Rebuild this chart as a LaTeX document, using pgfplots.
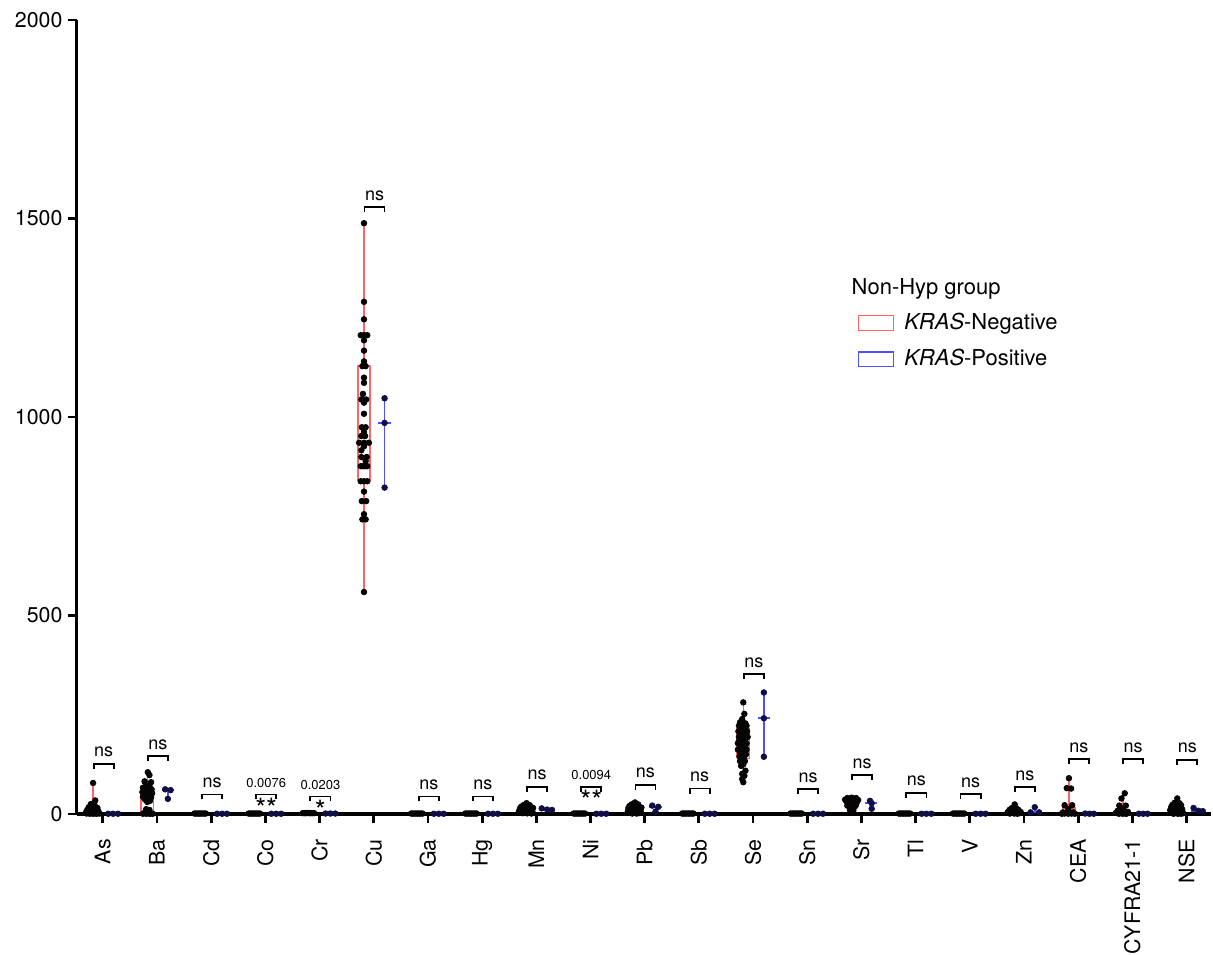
\documentclass[border=0pt]{standalone}
\usepackage{fontspec}
\setmainfont{TeX Gyre Heros}
\usepackage{pgfplots}
\pgfplotsset{compat=1.18}
\definecolor{kred}{RGB}{255,100,100}
\definecolor{kblue}{RGB}{80,80,255}
\definecolor{kdot}{RGB}{5,5,5}
\definecolor{bdot}{RGB}{15,15,70}
\newcommand{\tf}{\fontsize{10.7}{12.8}\selectfont}
\newcommand{\brk}[3]{\draw[line width=0.9pt] ([yshift=-2.5pt]axis cs:#1,#3) -- (axis cs:#1,#3) -- (axis cs:#2,#3) -- ([yshift=-2.5pt]axis cs:#2,#3);}
\newcommand{\nslab}[3]{\node[anchor=base, yshift=3.5pt, inner sep=0pt, font=\fontsize{9}{10}\selectfont] at (axis cs:#1,#2) {#3};}
\newcommand{\plab}[3]{\node[anchor=base, yshift=3.5pt, inner sep=0pt, font=\fontsize{6.5}{7}\selectfont] at (axis cs:#1,#2) {#3};}
\newcommand{\stars}[3]{\node[anchor=north, yshift=-1.5pt, inner sep=0pt, font=\fontsize{14}{15}\selectfont] at (axis cs:#1,#2) {#3};}
\pgfplotsset{
  rbox/.style={kred, line width=0.75pt, forget plot, mark=none},
  bbox/.style={kblue, line width=0.9pt, forget plot, mark=none},
}
\begin{document}
\begin{tikzpicture}
\begin{axis}[
  width=568pt, height=397.5pt, scale only axis,
  xmin=-0.479, xmax=20.46, ymin=0, ymax=2000,
  axis x line*=bottom, axis y line*=left,
  axis line style={line width=1.6pt, black, -},
  xtick={0,...,20},
  xticklabels={\tf As,\tf Ba,\tf Cd,\tf Co,\tf Cr,\tf Cu,\tf Ga,\tf Hg,\tf Mn,\tf Ni,\tf Pb,\tf Sb,\tf Se,\tf Sn,\tf Sr,\tf Tl,\tf V,\tf Zn,\tf CEA,\tf CYFRA21-1,\tf NSE},
  ytick={0,500,1000,1500,2000},
  yticklabel={\tf\pgfmathprintnumber[assume math mode=true,1000 sep={}]{\tick}},
  tick align=outside, major tick length=4.5pt,
  major tick style={line width=1.4pt, black},
  xticklabel style={rotate=90, anchor=east, inner sep=0pt, font=\tf},
  yticklabel style={anchor=east, inner sep=0pt, font=\tf},
  xticklabel shift=8pt, yticklabel shift=2.5pt,
  /pgf/number format/assume math mode=true,
  /pgf/number format/1000 sep={},
  unbounded coords=jump,
  clip=false,
  legend style={at={(0.6826,0.6413)}, anchor=north west, draw=none, fill=none,
    font=\fontsize{11}{13}\selectfont, row sep=4.5pt, column sep=3pt},
  legend cell align=left,
  legend image code/.code={\draw[#1, line width=0.7pt] (0cm,-0.13cm) rectangle (0.62cm,0.13cm);},
]
\addlegendimage{kred}
\addlegendentry{\textit{KRAS}-Negative}
\addlegendimage{kblue}
\addlegendentry{\textit{KRAS}-Positive}

% red boxes (KRAS-Negative): whisker, box, median, whisker
\addplot[rbox] coordinates {(-0.18,0.5)(-0.18,1) (-0.18,nan) (-0.295,1)(-0.065,1)(-0.065,12)(-0.295,12)(-0.295,1) (-0.18,nan) (-0.295,4)(-0.065,4) (-0.18,nan) (-0.18,12)(-0.18,78)};
\addplot[rbox] coordinates {(0.82,0.5)(0.82,5) (0.82,nan) (0.705,5)(0.935,5)(0.935,57)(0.705,57)(0.705,5) (0.82,nan) (0.705,45)(0.935,45) (0.82,nan) (0.82,57)(0.82,105)};
\addplot[rbox] coordinates {(4.82,559)(4.82,838) (4.82,nan) (4.705,838)(4.935,838)(4.935,1130)(4.705,1130)(4.705,838) (4.82,nan) (4.705,935)(4.935,935) (4.82,nan) (4.82,1130)(4.82,1488)};
\addplot[rbox] coordinates {(7.82,1)(7.82,6) (7.82,nan) (7.705,6)(7.935,6)(7.935,17)(7.705,17)(7.705,6) (7.82,nan) (7.705,10)(7.935,10) (7.82,nan) (7.82,17)(7.82,27)};
\addplot[rbox] coordinates {(9.82,1)(9.82,6) (9.82,nan) (9.705,6)(9.935,6)(9.935,20)(9.705,20)(9.705,6) (9.82,nan) (9.705,12)(9.935,12) (9.82,nan) (9.82,20)(9.82,29)};
\addplot[rbox] coordinates {(11.82,80)(11.82,140) (11.82,nan) (11.705,140)(11.935,140)(11.935,214)(11.705,214)(11.705,140) (11.82,nan) (11.705,175)(11.935,175) (11.82,nan) (11.82,214)(11.82,281)};
\addplot[rbox] coordinates {(13.82,4)(13.82,20) (13.82,nan) (13.705,20)(13.935,20)(13.935,40)(13.705,40)(13.705,20) (13.82,nan) (13.705,30)(13.935,30) (13.82,nan) (13.82,40)(13.82,41)};
\addplot[rbox] coordinates {(16.82,0.5)(16.82,3) (16.82,nan) (16.705,3)(16.935,3)(16.935,12)(16.705,12)(16.705,3) (16.82,nan) (16.705,6)(16.935,6) (16.82,nan) (16.82,12)(16.82,24)};
\addplot[rbox] coordinates {(17.83,0.5)(17.83,1) (17.83,nan) (17.715,1)(17.945,1)(17.945,15)(17.715,15)(17.715,1) (17.83,nan) (17.715,3)(17.945,3) (17.83,nan) (17.83,15)(17.83,90)};
\addplot[rbox] coordinates {(18.83,0.5)(18.83,1.5) (18.83,nan) (18.715,1.5)(18.945,1.5)(18.945,10)(18.715,10)(18.715,1.5) (18.83,nan) (18.715,4)(18.945,4) (18.83,nan) (18.83,10)(18.83,50)};
\addplot[rbox] coordinates {(19.83,0.5)(19.83,5) (19.83,nan) (19.715,5)(19.945,5)(19.945,18)(19.715,18)(19.715,5) (19.83,nan) (19.715,10)(19.945,10) (19.83,nan) (19.83,18)(19.83,39)};

% blue ranges (KRAS-Positive): min-max line, median bar
\addplot[bbox] coordinates {(1.2,38)(1.2,62) (1.2,nan) (1.085,60)(1.315,60)};
\addplot[bbox] coordinates {(5.2,822)(5.2,1047) (5.2,nan) (5.085,985)(5.315,985)};
\addplot[bbox] coordinates {(8.2,10)(8.2,14) (8.2,nan) (8.085,11)(8.315,11)};
\addplot[bbox] coordinates {(10.2,6)(10.2,21) (10.2,nan) (10.085,18)(10.315,18)};
\addplot[bbox] coordinates {(12.2,144)(12.2,306) (12.2,nan) (12.085,241)(12.315,241)};
\addplot[bbox] coordinates {(14.18,13)(14.18,33) (14.18,nan) (14.065,27)(14.295,27)};
\addplot[bbox] coordinates {(17.2,4)(17.2,17) (17.2,nan) (17.085,4)(17.315,4)};
\addplot[bbox] coordinates {(20.2,7)(20.2,15) (20.2,nan) (20.085,8)(20.315,8)};

% red dots (KRAS-Negative)
\addplot[only marks, mark=*, mark size=1.4pt, kdot, forget plot] table {
x y
-0.18 78
-0.14 34
-0.22 25
-0.15 21
-0.26 17
-0.10 15
-0.20 12
-0.29 10
-0.13 9
-0.24 7
-0.08 6
-0.18 5
-0.31 4
-0.27 3
-0.21 2.5
-0.15 2
-0.10 1.5
-0.06 1
-0.30 1
-0.24 0.5
-0.18 0.5
-0.12 0.5
0.83 105
0.86 98
0.77 82
0.89 80
0.80 72
0.86 70
0.74 66
0.83 64
0.90 62
0.78 60
0.87 57
0.73 55
0.82 54
0.91 52
0.77 50
0.86 48
0.81 45
0.74 43
0.89 42
0.84 39
0.78 36
0.87 33
0.82 30
0.80 12
0.86 10
0.77 3
0.83 2
0.89 1
0.74 0.5
0.80 0.5
0.86 0.5
0.92 0.5
1.69 1
1.72 1
1.75 1
1.78 1
1.81 1
1.84 1
1.87 1
1.90 1
2.69 1
2.72 1
2.75 1
2.78 1
2.81 1
2.84 1
2.87 1
2.90 1
3.69 2
3.72 2
3.75 2
3.78 2.5
3.81 2
3.84 2
3.87 2
3.90 2
4.82 1488
4.82 1290
4.82 1246
4.76 1206
4.82 1206
4.88 1206
4.82 1193
4.82 1167
4.82 1140
4.79 1128
4.85 1128
4.82 1099
4.82 1086
4.80 1058
4.77 1044
4.86 1044
4.82 1036
4.82 1008
4.78 974
4.85 974
4.82 962
4.77 952
4.84 952
4.73 935
4.82 935
4.91 935
4.82 926
4.77 916
4.77 899
4.87 899
4.85 889
4.76 876
4.80 876
4.84 876
4.88 876
4.76 838
4.82 838
4.88 838
4.82 812
4.78 788
4.86 788
4.82 755
4.79 742
4.85 742
4.82 559
5.69 1
5.72 1
5.75 1
5.78 1
5.81 1
5.84 1
5.87 1
5.90 1
6.69 1
6.72 1
6.75 1
6.78 1
6.81 1
6.84 1
6.87 1
6.90 1
7.82 27
7.76 22
7.88 22
7.72 18
7.80 18
7.88 17
7.94 15
7.70 14
7.77 13
7.85 13
7.92 11
7.73 10
7.81 9
7.89 8
7.68 7
7.76 6
7.84 6
7.93 5
7.71 4
7.79 3
7.87 3
7.75 2
7.83 1.5
7.91 1
8.69 1
8.72 1
8.75 1
8.78 1
8.81 1
8.84 1
8.87 1
8.90 1
9.82 29
9.76 24
9.88 24
9.72 20
9.80 19
9.88 19
9.94 16
9.70 15
9.78 14
9.86 13
9.74 10
9.82 9
9.90 9
9.69 7
9.77 6
9.85 6
9.93 5
9.73 3
9.81 3
9.89 2
9.77 1
9.85 1
10.69 1
10.72 1
10.75 1
10.78 1
10.81 1
10.84 1
10.87 1
10.90 1
11.82 281
11.84 252
11.80 239
11.76 231
11.78 228
11.86 228
11.74 222
11.88 222
11.80 218
11.76 214
11.86 214
11.73 208
11.81 208
11.89 208
11.77 202
11.87 202
11.82 198
11.74 194
11.82 194
11.90 194
11.78 188
11.86 188
11.74 183
11.84 183
11.72 178
11.80 178
11.88 178
11.77 172
11.86 172
11.75 166
11.84 166
11.72 162
11.80 162
11.88 162
11.76 156
11.85 156
11.79 150
11.87 150
11.75 145
11.84 145
11.80 140
11.76 133
11.85 133
11.82 125
11.78 121
11.86 109
11.80 101
11.84 96
11.80 88
11.82 80
12.69 1
12.72 1
12.75 1
12.78 1
12.81 1
12.84 1
12.87 1
12.90 1
13.74 40
13.82 41
13.90 40
13.70 36
13.78 37
13.86 37
13.94 35
13.72 32
13.80 33
13.88 32
13.75 28
13.83 28
13.91 27
13.78 24
13.86 24
13.74 21
13.82 20
13.89 20
13.78 16
13.86 16
13.82 12
13.79 8
13.85 8
13.82 4
14.69 1
14.72 1
14.75 1
14.78 1
14.81 1
14.84 1
14.87 1
14.90 1
15.69 1
15.72 1
15.75 1
15.78 1
15.81 1
15.84 1
15.87 1
15.90 1
16.83 24
16.78 15
16.86 14
16.74 11
16.82 10
16.90 10
16.72 7
16.80 6
16.88 6
16.94 5
16.70 4
16.77 3
16.85 3
16.92 2
16.74 1
16.82 1
16.88 0.5
17.83 90
17.79 65
17.87 64
17.75 22
17.89 22
17.82 12
17.72 4
17.78 3
17.85 3
17.91 4
17.75 1
17.82 0.5
17.88 1
17.70 0.5
17.94 0.5
18.86 52
18.80 39
18.76 21
18.88 21
18.82 12
18.73 8
18.79 6
18.86 6
18.92 5
18.70 3
18.77 2
18.84 2
18.90 1
18.75 0.5
18.82 0.5
18.88 0.5
19.83 39
19.78 28
19.87 27
19.74 23
19.82 22
19.90 22
19.72 18
19.80 17
19.88 17
19.76 14
19.84 13
19.92 12
19.70 10
19.78 9
19.86 9
19.74 6
19.82 5
19.90 5
19.70 3
19.78 2
19.86 2
19.94 2
19.76 0.5
19.84 0.5
19.90 0.5
};

% blue dots (KRAS-Positive)
\addplot[only marks, mark=*, mark size=1.4pt, bdot, forget plot] table {
x y
0.10 0.5
0.19 0.5
0.28 0.5
1.15 62
1.25 60
1.20 38
2.11 0.5
2.20 0.5
2.29 0.5
3.11 0.5
3.20 0.5
3.29 0.5
4.11 1
4.20 1
4.29 1
5.20 1047
5.20 985
5.20 822
6.11 0.5
6.20 0.5
6.29 0.5
7.11 0.5
7.20 0.5
7.29 0.5
8.10 14
8.20 11
8.29 10
9.11 0.5
9.20 0.5
9.29 0.5
10.14 21
10.25 18
10.20 6
11.11 0.5
11.20 0.5
11.29 0.5
12.20 306
12.20 241
12.20 144
13.11 0.5
13.20 0.5
13.29 0.5
14.16 33
14.19 27
14.19 13
15.11 0.5
15.20 0.5
15.29 0.5
16.11 0.5
16.20 0.5
16.29 0.5
17.20 17
17.12 4
17.28 4
18.13 1
18.21 0.5
18.29 0.5
19.12 0.5
19.20 0.5
19.28 0.5
20.13 15
20.22 8
20.30 7
};

% significance brackets
\brk{-0.17}{0.2}{126} \nslab{0.015}{126}{ns}
\brk{0.83}{1.2}{145} \nslab{1.015}{145}{ns}
\brk{1.83}{2.2}{49} \nslab{2.015}{49}{ns}
\brk{2.83}{3.2}{49} \plab{3.015}{49}{0.0076} \stars{3.015}{49}{**}
\brk{3.83}{4.2}{44} \plab{4.015}{44}{0.0203} \stars{4.015}{44}{*}
\brk{4.83}{5.2}{1528} \nslab{5.015}{1528}{ns}
\brk{5.83}{6.2}{44} \nslab{6.015}{44}{ns}
\brk{6.83}{7.2}{44} \nslab{7.015}{44}{ns}
\brk{7.83}{8.2}{68} \nslab{8.015}{68}{ns}
\brk{8.83}{9.2}{68} \plab{9.015}{68}{0.0094} \stars{9.015}{68}{**}
\brk{9.83}{10.2}{73} \nslab{10.015}{73}{ns}
\brk{10.83}{11.2}{64} \nslab{11.015}{64}{ns}
\brk{11.83}{12.2}{352} \nslab{12.015}{352}{ns}
\brk{12.83}{13.2}{62} \nslab{13.015}{62}{ns}
\brk{13.83}{14.2}{98} \nslab{14.015}{98}{ns}
\brk{14.83}{15.2}{53} \nslab{15.015}{53}{ns}
\brk{15.83}{16.2}{50} \nslab{16.015}{50}{ns}
\brk{16.83}{17.2}{67} \nslab{17.015}{67}{ns}
\brk{17.83}{18.2}{138} \nslab{18.015}{138}{ns}
\brk{18.83}{19.2}{138} \nslab{19.015}{138}{ns}
\brk{19.83}{20.2}{136} \nslab{20.015}{136}{ns}

\node[anchor=west, inner sep=0pt, font=\fontsize{11}{13}\selectfont] at (axis description cs:0.6826,0.6615) {Non-Hyp group};
\end{axis}
\path ([yshift=10pt]current axis.north west) ([xshift=-38.5pt]current axis.south west);
\end{tikzpicture}
\end{document}
